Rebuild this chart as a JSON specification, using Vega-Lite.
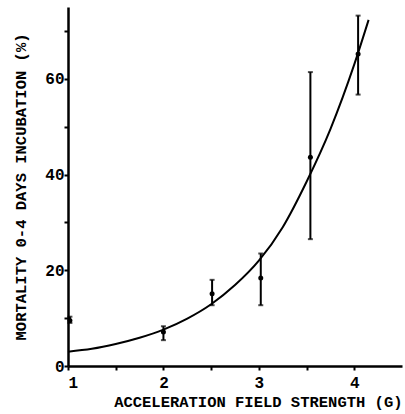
{
  "$schema": "https://vega.github.io/schema/vega-lite/v6.json",
  "autosize": "none",
  "width": 334,
  "height": 359,
  "padding": {"left": 68, "top": 7, "right": 3, "bottom": 48},
  "background": "white",
  "config": {
    "view": {"stroke": null},
    "axis": {
      "grid": false,
      "domainColor": "black",
      "domainWidth": 2.5,
      "tickColor": "black",
      "tickWidth": 2,
      "tickSize": 4,
      "labelFont": "Liberation Mono",
      "labelFontWeight": "bold",
      "labelFontSize": 16,
      "labelColor": "black",
      "titleFont": "Liberation Mono",
      "titleFontWeight": "bold",
      "titleFontSize": 15.5,
      "titleColor": "black"
    }
  },
  "datasets": {
    "points": [
      {"g": 1.02, "m": 9.5, "lo": 9.0, "hi": 10.3},
      {"g": 2.0, "m": 7.1, "lo": 5.4, "hi": 8.3},
      {"g": 2.51, "m": 15.1, "lo": 12.7, "hi": 18.0},
      {"g": 3.02, "m": 18.4, "lo": 12.7, "hi": 23.5},
      {"g": 3.54, "m": 43.6, "lo": 26.5, "hi": 61.4},
      {"g": 4.04, "m": 65.2, "lo": 56.7, "hi": 73.2}
    ],
    "curve": [
      {"g": 1.0, "m": 3.0},
      {"g": 1.25, "m": 3.6},
      {"g": 1.5, "m": 4.6},
      {"g": 1.75, "m": 5.9},
      {"g": 2.0, "m": 7.6},
      {"g": 2.25, "m": 9.9},
      {"g": 2.5, "m": 12.9},
      {"g": 2.75, "m": 16.9},
      {"g": 3.0, "m": 22.0},
      {"g": 3.25, "m": 29.0},
      {"g": 3.5, "m": 38.5},
      {"g": 3.75, "m": 49.5},
      {"g": 4.0, "m": 63.0},
      {"g": 4.15, "m": 72.3}
    ]
  },
  "encoding": {
    "x": {
      "field": "g", "type": "quantitative",
      "scale": {"domain": [1, 4.5], "nice": false, "zero": false},
      "axis": {
        "values": [1, 1.5, 2, 2.5, 3, 3.5, 4],
        "labelExpr": "datum.value % 1 == 0 ? format(datum.value, 'd') : ''",
        "title": "ACCELERATION FIELD STRENGTH (G)",
        "titleAnchor": "end",
        "titlePadding": 4,
        "labelPadding": 4
      }
    },
    "y": {
      "field": "m", "type": "quantitative",
      "scale": {"domain": [0, 75], "nice": false},
      "axis": {
        "values": [0, 10, 20, 30, 40, 50, 60, 70],
        "labelExpr": "datum.value % 20 == 0 ? format(datum.value, 'd') : ''",
        "title": "MORTALITY 0-4 DAYS INCUBATION (%)",
        "titlePadding": 16,
        "labelPadding": 0
      }
    }
  },
  "layer": [
    {
      "data": {"name": "curve"},
      "mark": {"type": "line", "color": "black", "strokeWidth": 2, "interpolate": "monotone"}
    },
    {
      "data": {"name": "points"},
      "mark": {"type": "rule", "color": "black", "strokeWidth": 2},
      "encoding": {"y": {"field": "lo", "type": "quantitative"}, "y2": {"field": "hi"}}
    },
    {
      "data": {"name": "points"},
      "mark": {"type": "tick", "color": "black", "orient": "horizontal", "size": 5, "thickness": 2},
      "encoding": {"y": {"field": "lo", "type": "quantitative"}}
    },
    {
      "data": {"name": "points"},
      "mark": {"type": "tick", "color": "black", "orient": "horizontal", "size": 5, "thickness": 2},
      "encoding": {"y": {"field": "hi", "type": "quantitative"}}
    },
    {
      "data": {"name": "points"},
      "mark": {"type": "point", "filled": true, "color": "black", "size": 25, "opacity": 1}
    }
  ]
}
